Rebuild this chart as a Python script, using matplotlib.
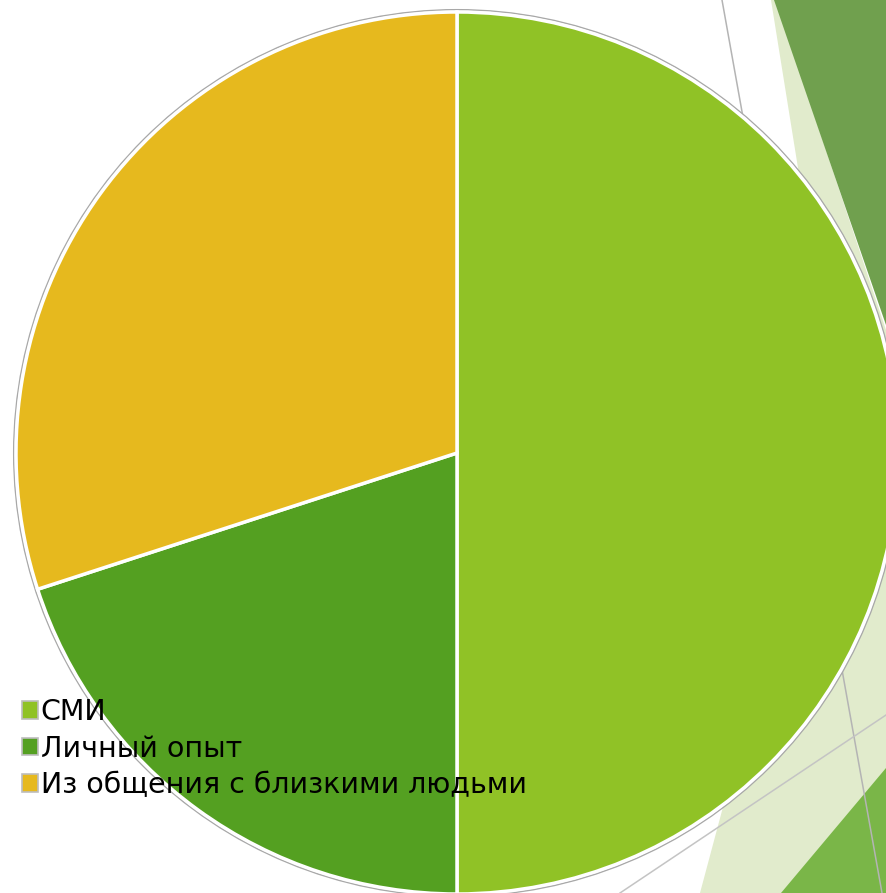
import matplotlib
matplotlib.use("Agg")
import matplotlib.pyplot as plt
from matplotlib.patches import Polygon, Circle, Patch

# ── data ──────────────────────────────────────────────────────────────────────
labels = ["СМИ", "Личный опыт", "Из общения с близкими людьми"]
shares = [50, 20, 30]
colors = ["#90c226", "#54a021", "#e6b91e"]

W, H = 886, 893


def px(x, y):
    # pixel coords (y down) -> data coords (y up)
    return (x, H - y)


fig = plt.figure(figsize=(W / 100, H / 100), dpi=100)
ax = fig.add_axes([0, 0, 1, 1])

# ── theme decoration on the right ─────────────────────────────────────────────
ax.add_patch(Polygon([px(771, 0), px(776, 0), px(886, 330), px(886, 893),
                      px(700, 893), px(834, 392)],
                     closed=True, color="#e1ebcc", lw=0, zorder=0))
ax.add_patch(Polygon([px(774, 0), px(886, 0), px(886, 325)],
                     closed=True, color="#70a04e", lw=0, zorder=0.5))
ax.add_patch(Polygon([px(781, 893), px(886, 768), px(886, 893)],
                     closed=True, color="#7ab648", lw=0, zorder=0.5))
ax.plot(*zip(px(722, 0), px(882, 893)), color="#b4b4b4", lw=1.1, zorder=1)
ax.plot(*zip(px(620, 893), px(886, 715)), color="#c4c4c4", lw=1.1, zorder=1)

# ── pie ───────────────────────────────────────────────────────────────────────
cx, cy = px(457, 453)
R = 441
ax.add_patch(Circle((cx, cy), R + 2.2, facecolor="none",
                    edgecolor="#a8a8a8", lw=1.2, zorder=2))
wedges, _ = ax.pie(shares, colors=colors, startangle=90, counterclock=False,
                   center=(cx, cy), radius=R,
                   wedgeprops=dict(edgecolor="white", linewidth=2.5, zorder=3))
for w in wedges:
    w.set_zorder(3)

ax.set_xlim(0, W)
ax.set_ylim(0, H)
ax.set_aspect("equal")
ax.axis("off")

# ── legend ────────────────────────────────────────────────────────────────────
handles = [Patch(facecolor=c, edgecolor="#bdbdbd", lw=1.2) for c in colors]
leg = ax.legend(handles, labels, loc="upper left",
                bbox_to_anchor=(22 / W, 1 - 698 / H), frameon=False,
                fontsize=20.5, handlelength=0.55, handleheight=0.55,
                handletextpad=0.1, labelspacing=0.3, borderaxespad=0,
                borderpad=0)
leg.set_zorder(5)

fig.savefig("out.png", dpi=100)
